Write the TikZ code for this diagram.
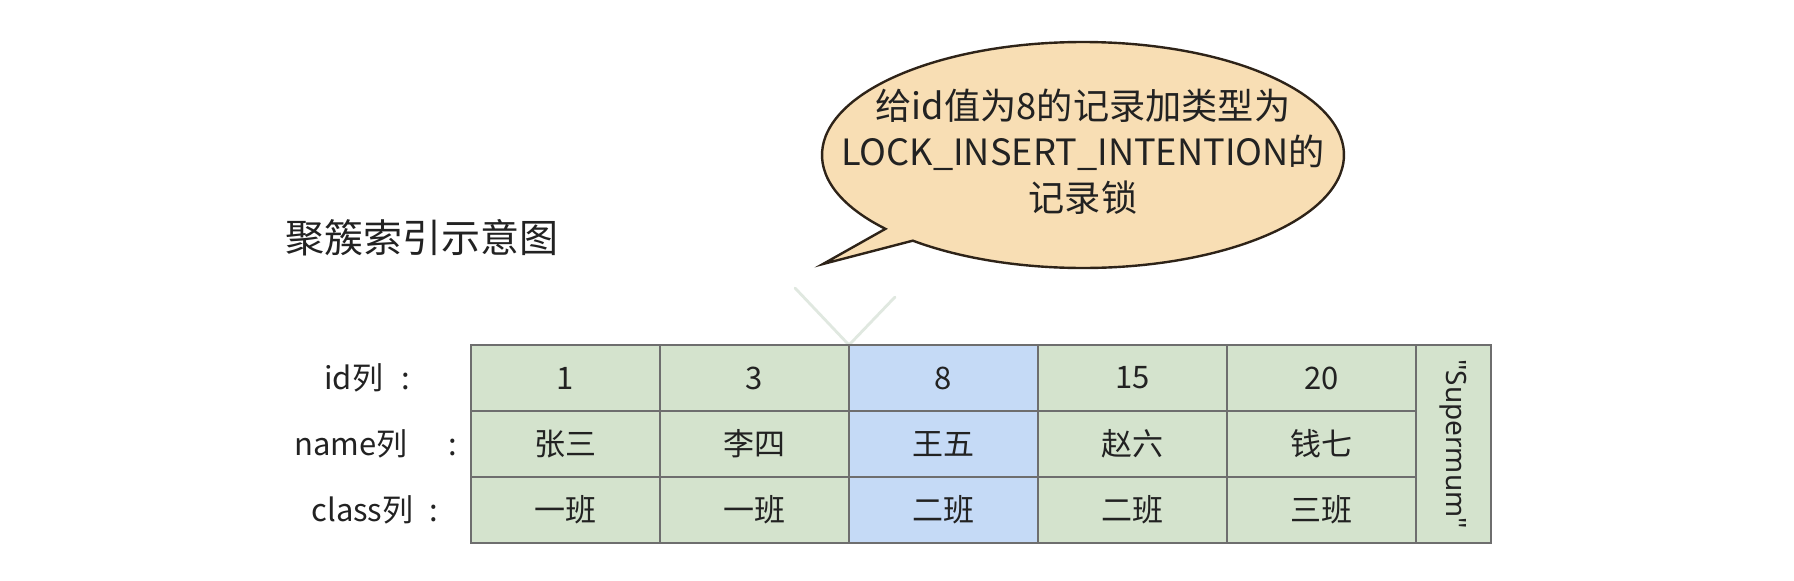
\documentclass[tikz,border=0pt]{standalone}
\usepackage{fontspec}
\setmainfont{Noto Sans CJK SC}
\newfontfamily\latinfont{Noto Sans}
\definecolor{cgreen}{HTML}{D4E3CD}
\definecolor{cblue}{HTML}{C5DAF6}
\definecolor{tline}{HTML}{6E6E6E}
\definecolor{bfill}{HTML}{F8DEB4}
\definecolor{bline}{HTML}{2E2318}
\definecolor{ghost}{HTML}{E0E8E0}
\definecolor{txt}{HTML}{222222}
\begin{document}
\begin{tikzpicture}[x=0.5pt,y=0.5pt,
  cellbox/.style={draw=tline, line width=1pt, inner sep=0pt, minimum width=94.5pt, minimum height=33pt,
    text=txt, font=\fontsize{15.5}{18}\selectfont},
  gcell/.style={cellbox, fill=cgreen},
  bcell/.style={cellbox, fill=cblue},
  rowlabel/.style={anchor=west, inner sep=0pt, text=txt, font=\fontsize{15.5}{18}\selectfont},
  bubble/.style={fill=bfill, draw=bline, line width=1.2pt, line join=miter},
  ghostline/.style={draw=ghost, line width=1.4pt, line cap=round}]
\useasboundingbox[fill=white] (0,0) rectangle (1794,-580);

% title
\node[text=txt, font=\fontsize{19.5}{22}\selectfont, inner sep=0pt] (title) at (422,-238) {聚簇索引示意图};

% faint ghost arrow
\coordinate (g1) at (795,-288);
\coordinate (g2) at (895,-297);
\coordinate (apex) at (849,-345);
\draw[ghostline] (g1) -- (apex);
\draw[ghostline] (g2) -- (apex);

% table cells
\foreach \r/\y/\a/\b/\c/\d/\e in {
  1/-378/1/3/8/15/20,
  2/-444/张三/李四/王五/赵六/钱七,
  3/-510/一班/一班/二班/二班/三班}{
  \node[gcell] (c\r1) at (565.5,\y) {\a};
  \node[gcell] (c\r2) at (754.5,\y) {\b};
  \node[bcell] (c\r3) at (943.5,\y) {\c};
  \node[gcell] (c\r4) at (1132.5,\y) {\d};
  \node[gcell] (c\r5) at (1321.5,\y) {\e};
}
\node[cellbox, fill=cgreen, minimum width=37.5pt, minimum height=99pt] (sup) at (1453.5,-444) {};
\node[rotate=-90, text=txt, font=\latinfont\fontsize{14}{17}\selectfont, inner sep=0pt] (suptext) at (1453,-444) {"Supermum"};

% row labels
\node[rowlabel] (lid) at (324,-378) {id列\hspace{9pt}:};
\node[rowlabel] (lname) at (294,-444) {name列\hspace{20.5pt}:};
\node[rowlabel] (lclass) at (311,-510) {class列\hspace{8pt}:};

% callout bubble
\coordinate (bc) at (1083,-155);
\coordinate (tip) at (823,-264);
\draw[bubble] (bc) ++(220.8:130.5pt and 56.5pt)
  arc[start angle=220.8, end angle=-130.7, x radius=130.5pt, y radius=56.5pt]
  -- (tip) -- cycle;
\node[align=center, text=txt, font=\fontsize{18.1}{23}\selectfont, inner sep=0pt] (btext) at (1083,-152)
  {给id值为8的记录加类型为\\LOCK\_INSERT\_INTENTION的\\记录锁};
\end{tikzpicture}
\end{document}
